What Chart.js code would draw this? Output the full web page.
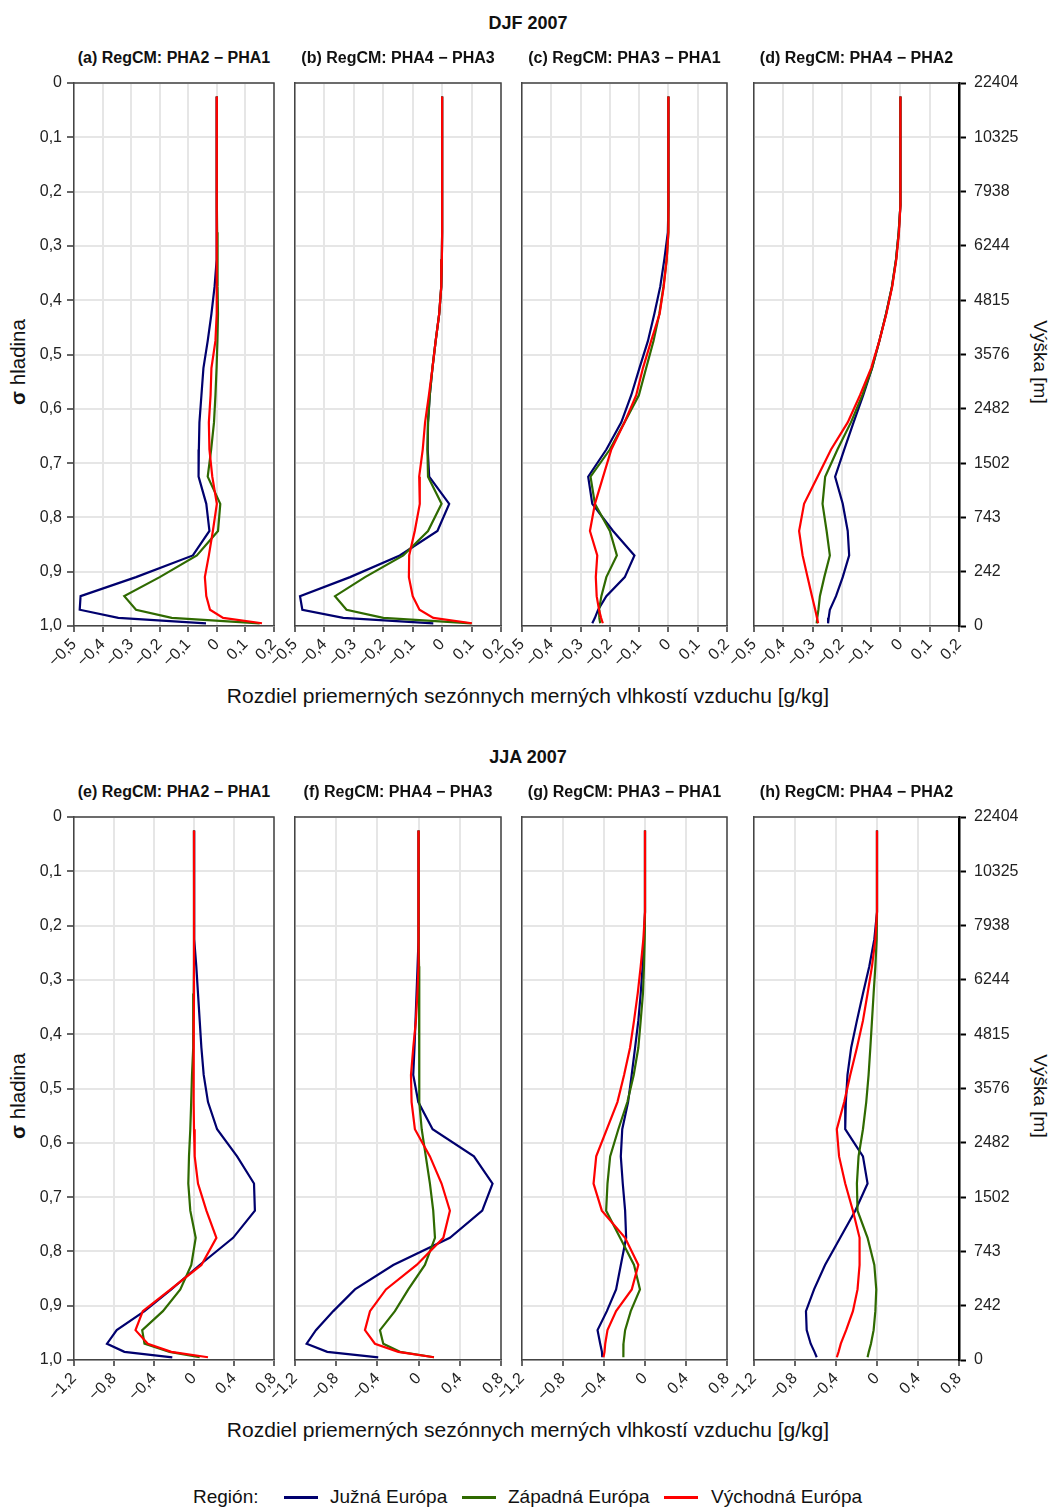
<!DOCTYPE html>
<html lang="sk">
<head>
  <meta charset="UTF-8">
  <title>Rozdiel merných vlhkostí vzduchu – RegCM</title>
  <script src="https://cdn.jsdelivr.net/npm/chart.js"></script>
  <style>
    body {
      margin: 0;
      background: #fff;
      font-family: "Liberation Sans", Arial, sans-serif;
      color: #111;
    }
    #page {
      position: relative;
      width: 1051px;
      height: 1508px;
      overflow: hidden;
    }
    canvas {
      position: absolute;
    }
    .txt {
      position: absolute;
      white-space: nowrap;
      transform: translate(-50%, -50%);
    }
    .season {
      font-weight: bold;
      font-size: 18px;
    }
    .ptitle {
      font-weight: bold;
      font-size: 16px;
    }
    .xtitle {
      font-size: 21px;
    }
    .ytitle {
      font-size: 20.5px;
      transform: translate(-50%, -50%) rotate(-90deg);
    }
    .rtitle {
      font-size: 19px;
      transform: translate(-50%, -50%) rotate(90deg);
    }
    .leg {
      position: absolute;
      top: 1497px;
      font-size: 19px;
      white-space: nowrap;
      transform: translateY(-50%);
    }
    .swatch {
      position: absolute;
      top: 1496px;
      width: 34px;
      height: 3px;
    }
  </style>
</head>
<body>
<div id="page">
  <div class="txt season" style="left:528px; top:23px;">DJF 2007</div>
  <div class="txt season" style="left:528px; top:757px;">JJA 2007</div>

  <div class="txt xtitle" style="left:528px; top:696px;">Rozdiel priemerných sezónnych merných vlhkostí vzduchu [g/kg]</div>
  <div class="txt xtitle" style="left:528px; top:1430px;">Rozdiel priemerných sezónnych merných vlhkostí vzduchu [g/kg]</div>

  <div class="txt ytitle" style="left:18px; top:362px;"><b>σ</b> hladina</div>
  <div class="txt ytitle" style="left:18px; top:1096px;"><b>σ</b> hladina</div>
  <div class="txt rtitle" style="left:1040px; top:362px;">Výška [m]</div>
  <div class="txt rtitle" style="left:1040px; top:1096px;">Výška [m]</div>
</div>

<script>
  // model sigma levels (half levels) and height labels for the right axis
  const SIGMA = [0.025, 0.075, 0.125, 0.175, 0.225, 0.275, 0.325, 0.375, 0.425, 0.475, 0.525, 0.575,
                 0.625, 0.675, 0.725, 0.775, 0.825, 0.87, 0.91, 0.945, 0.97, 0.985, 0.995];
  const HEIGHT_LABELS = ['22404', '10325', '7938', '6244', '4815', '3576', '2482', '1502', '743', '242', '0'];

  const REGIONS = ['Južná Európa', 'Západná Európa', 'Východná Európa'];
  const COLORS = ['#00006e', '#2f6a00', '#ff0000'];

  const TITLES = [
    '(a) RegCM: PHA2 − PHA1', '(b) RegCM: PHA4 − PHA3', '(c) RegCM: PHA3 − PHA1', '(d) RegCM: PHA4 − PHA2',
    '(e) RegCM: PHA2 − PHA1', '(f) RegCM: PHA4 − PHA3', '(g) RegCM: PHA3 − PHA1', '(h) RegCM: PHA4 − PHA2'
  ];

  // DJF 2007
  const A_SOUTH = [0, 0, 0, 0, 0, -0.001, -0.003, -0.008, -0.019, -0.032, -0.047, -0.054, -0.061, -0.063, -0.064, -0.037, -0.026, -0.084, -0.283, -0.477, -0.48, -0.345, -0.038];
  const A_WEST  = [0, 0, 0, 0, 0, 0.001, 0.002, 0.003, 0.004, 0.002, -0.001, -0.005, -0.01, -0.02, -0.032, 0.012, 0.004, -0.07, -0.2, -0.324, -0.283, -0.158, 0.15];
  const A_EAST  = [0, 0, 0, 0, 0, 0, 0, -0.001, -0.003, -0.005, -0.019, -0.022, -0.028, -0.026, -0.016, 0, -0.014, -0.028, -0.042, -0.037, -0.024, 0.022, 0.158];

  const B_SOUTH = [0, 0, 0, 0, 0, 0, -0.001, -0.003, -0.01, -0.022, -0.033, -0.042, -0.048, -0.049, -0.044, 0.024, -0.016, -0.144, -0.313, -0.483, -0.475, -0.336, -0.03];
  const B_WEST  = [0, 0, 0, 0, 0, 0, -0.001, -0.003, -0.01, -0.022, -0.033, -0.042, -0.048, -0.05, -0.048, -0.002, -0.048, -0.132, -0.262, -0.364, -0.325, -0.2, 0.1];
  const B_EAST  = [0, 0, 0, 0, 0, 0, -0.001, -0.003, -0.01, -0.022, -0.033, -0.045, -0.058, -0.066, -0.078, -0.076, -0.093, -0.112, -0.113, -0.1, -0.077, -0.03, 0.101];

  const C_SOUTH = [0, 0, 0, 0, 0, -0.002, -0.014, -0.028, -0.048, -0.07, -0.099, -0.127, -0.161, -0.212, -0.274, -0.26, -0.189, -0.116, -0.149, -0.212, -0.24, -0.251, -0.26];
  const C_WEST  = [0, 0, 0, 0, 0, 0, -0.006, -0.017, -0.031, -0.051, -0.076, -0.101, -0.15, -0.2, -0.266, -0.251, -0.2, -0.176, -0.212, -0.229, -0.237, -0.236, -0.233];
  const C_EAST  = [0, 0, 0, 0, 0, -0.001, -0.006, -0.016, -0.03, -0.059, -0.087, -0.11, -0.15, -0.195, -0.223, -0.251, -0.268, -0.243, -0.248, -0.245, -0.237, -0.23, -0.224];

  const D_SOUTH = [0, 0, 0, 0, 0, -0.006, -0.015, -0.029, -0.049, -0.072, -0.097, -0.127, -0.16, -0.192, -0.223, -0.197, -0.18, -0.175, -0.197, -0.22, -0.241, -0.245, -0.247];
  const D_WEST  = [0, 0, 0, 0, 0, -0.006, -0.015, -0.029, -0.049, -0.072, -0.097, -0.13, -0.169, -0.215, -0.257, -0.266, -0.252, -0.241, -0.26, -0.275, -0.28, -0.284, -0.286];
  const D_EAST  = [0, 0, 0, 0, 0, -0.005, -0.014, -0.028, -0.048, -0.072, -0.1, -0.138, -0.18, -0.237, -0.283, -0.329, -0.346, -0.334, -0.317, -0.302, -0.291, -0.285, -0.281];

  // JJA 2007
  const E_SOUTH = [0, 0, 0, 0, 0.007, 0.023, 0.04, 0.057, 0.074, 0.097, 0.14, 0.231, 0.431, 0.6, 0.609, 0.391, 0.057, -0.227, -0.495, -0.773, -0.87, -0.696, -0.217];
  const E_WEST  = [0, 0, 0, 0, 0, 0, -0.003, -0.006, -0.01, -0.02, -0.028, -0.037, -0.05, -0.057, -0.037, 0.017, -0.027, -0.137, -0.311, -0.518, -0.495, -0.244, 0.057];
  const E_EAST  = [0, 0, 0, 0, 0, 0, 0, -0.002, -0.003, -0.005, -0.003, 0, 0.007, 0.04, 0.124, 0.224, 0.074, -0.234, -0.512, -0.585, -0.462, -0.227, 0.14];

  const F_SOUTH = [0, 0, 0, 0, -0.003, -0.01, -0.02, -0.03, -0.04, -0.052, -0.003, 0.136, 0.537, 0.718, 0.618, 0.304, -0.246, -0.618, -0.828, -0.997, -1.087, -0.887, -0.392];
  const F_WEST  = [0, 0, 0, 0, 0.002, 0.004, 0.005, 0.006, 0.006, 0.006, 0.01, 0.03, 0.07, 0.11, 0.142, 0.159, 0.061, -0.1, -0.23, -0.375, -0.343, -0.181, 0.149];
  const F_EAST  = [0, 0, 0, 0, -0.002, -0.005, -0.012, -0.026, -0.052, -0.074, -0.068, -0.036, 0.11, 0.223, 0.304, 0.24, -0.019, -0.317, -0.472, -0.521, -0.424, -0.197, 0.149];

  const G_SOUTH = [0, 0, 0, 0, -0.01, -0.023, -0.042, -0.065, -0.097, -0.13, -0.165, -0.222, -0.236, -0.217, -0.194, -0.184, -0.236, -0.282, -0.372, -0.463, -0.437, -0.42, -0.417];
  const G_WEST  = [0, 0, 0, 0, -0.003, -0.01, -0.02, -0.042, -0.065, -0.11, -0.172, -0.26, -0.34, -0.366, -0.379, -0.243, -0.107, -0.049, -0.139, -0.194, -0.21, -0.212, -0.21];
  const G_EAST  = [0, 0, 0, 0, -0.016, -0.042, -0.071, -0.107, -0.146, -0.204, -0.269, -0.372, -0.476, -0.502, -0.421, -0.194, -0.065, -0.129, -0.282, -0.366, -0.388, -0.395, -0.405];

  const H_SOUTH = [0, 0, 0, 0, -0.026, -0.075, -0.137, -0.196, -0.252, -0.288, -0.304, -0.31, -0.137, -0.092, -0.212, -0.359, -0.507, -0.614, -0.693, -0.686, -0.647, -0.61, -0.588];
  const H_WEST  = [0, 0, 0, 0, -0.003, -0.016, -0.033, -0.049, -0.065, -0.082, -0.105, -0.137, -0.18, -0.196, -0.19, -0.092, -0.026, -0.007, -0.016, -0.033, -0.059, -0.08, -0.092];
  const H_EAST  = [0, 0, 0, 0, -0.016, -0.049, -0.092, -0.137, -0.196, -0.261, -0.32, -0.392, -0.37, -0.31, -0.235, -0.17, -0.17, -0.19, -0.235, -0.301, -0.353, -0.375, -0.392];

  const SERIES = [
    [A_SOUTH, A_WEST, A_EAST], [B_SOUTH, B_WEST, B_EAST], [C_SOUTH, C_WEST, C_EAST], [D_SOUTH, D_WEST, D_EAST],
    [E_SOUTH, E_WEST, E_EAST], [F_SOUTH, F_WEST, F_EAST], [G_SOUTH, G_WEST, G_EAST], [H_SOUTH, H_WEST, H_EAST]
  ];

  // x ranges per row
  const X_DJF = { min: -0.5, max: 0.2, step: 0.1 };
  const X_JJA = { min: -1.2, max: 0.8, step: 0.4 };

  // plot area geometry
  const COL_LEFT = [74, 295, 522, 754];
  const COL_WIDTH = [200, 206, 205, 205];
  const ROW_TOP = [83, 817];
  const PLOT_H = 543;
  const PAD_L = 60, PAD_R = 80, PAD_T = 30, PAD_B = 60;

  const FONT = { family: '"Liberation Sans", Arial, sans-serif', size: 16 };
  const GRID = '#e6e6e6';
  const FRAME = '#444';

  function fmt(v) {
    if (Math.abs(v) < 1e-9) return '0';
    return v.toFixed(1).replace('.', ',').replace('-', '\u2212');
  }

  // top edge (and right edge when there is no height axis) of the plot frame
  const framePlugin = {
    id: 'frame',
    beforeDatasetsDraw(chart, args, opts) {
      const a = chart.chartArea;
      const ctx = chart.ctx;
      ctx.save();
      ctx.strokeStyle = FRAME;
      ctx.lineWidth = 1.5;
      ctx.beginPath();
      ctx.moveTo(a.left, a.top);
      ctx.lineTo(a.right, a.top);
      if (!opts.rightAxis) {
        ctx.lineTo(a.right, a.bottom);
      }
      ctx.stroke();
      ctx.restore();
    }
  };

  const page = document.getElementById('page');

  for (let p = 0; p < 8; p++) {
    const row = Math.floor(p / 4);
    const col = p % 4;
    const L = COL_LEFT[col], W = COL_WIDTH[col], T = ROW_TOP[row];
    const xr = row === 0 ? X_DJF : X_JJA;
    const first = col === 0;
    const last = col === 3;

    const title = document.createElement('div');
    title.className = 'txt ptitle';
    title.style.left = (L + W / 2) + 'px';
    title.style.top = (T - 25) + 'px';
    title.textContent = TITLES[p];
    page.appendChild(title);

    const cv = document.createElement('canvas');
    cv.width = PAD_L + W + PAD_R;
    cv.height = PAD_T + PLOT_H + PAD_B;
    cv.style.left = (L - PAD_L) + 'px';
    cv.style.top = (T - PAD_T) + 'px';
    page.appendChild(cv);

    const scales = {
      x: {
        type: 'linear',
        min: xr.min,
        max: xr.max,
        ticks: {
          stepSize: xr.step,
          autoSkip: false,
          minRotation: 45,
          maxRotation: 45,
          padding: 3,
          color: '#222',
          font: FONT,
          callback: v => fmt(v)
        },
        grid: { color: GRID, lineWidth: 2, tickLength: 6, tickColor: '#333', tickWidth: 1.5 },
        border: { color: FRAME, width: 1.5 },
        afterFit: s => { s.height = PAD_B; }
      },
      y: {
        type: 'linear',
        reverse: true,
        min: 0,
        max: 1,
        ticks: {
          display: first,
          stepSize: 0.1,
          padding: 5,
          color: '#222',
          font: FONT,
          callback: v => fmt(v)
        },
        grid: { color: GRID, lineWidth: 2, drawTicks: first, tickLength: 7, tickColor: '#333', tickWidth: 1.5 },
        border: { color: FRAME, width: 1.5 },
        afterFit: s => { s.width = PAD_L; }
      }
    };

    if (last) {
      scales.y2 = {
        type: 'linear',
        position: 'right',
        reverse: true,
        min: 0,
        max: 1,
        ticks: {
          stepSize: 0.1,
          padding: 8,
          color: '#222',
          font: FONT,
          callback: v => HEIGHT_LABELS[Math.round(v * 10)]
        },
        grid: { drawOnChartArea: false, tickLength: 7, tickColor: '#000', tickWidth: 2 },
        border: { color: '#000', width: 2.5 },
        afterFit: s => { s.width = PAD_R; }
      };
    }

    new Chart(cv, {
      type: 'scatter',
      data: {
        datasets: SERIES[p].map((vals, k) => ({
          label: REGIONS[k],
          data: SIGMA.map((s, i) => ({ x: vals[i], y: s })),
          showLine: true,
          borderColor: COLORS[k],
          backgroundColor: COLORS[k],
          borderWidth: 2.2,
          pointRadius: 0,
          tension: 0,
          order: 2 - k   // red on top, blue underneath
        }))
      },
      options: {
        responsive: false,
        animation: false,
        events: [],
        layout: {
          autoPadding: false,
          padding: { top: PAD_T, left: 0, bottom: 0, right: last ? 0 : PAD_R }
        },
        plugins: {
          legend: { display: false },
          tooltip: { enabled: false },
          frame: { rightAxis: last }
        },
        scales: scales
      },
      plugins: [framePlugin]
    });
  }

  // legend row under the charts
  const LEGEND_TEXT_X = [330, 508, 711];
  const LEGEND_LINE_X = [284, 462, 664];
  const head = document.createElement('div');
  head.className = 'leg';
  head.style.left = '193px';
  head.textContent = 'Región:';
  page.appendChild(head);
  REGIONS.forEach((r, k) => {
    const sw = document.createElement('div');
    sw.className = 'swatch';
    sw.style.left = LEGEND_LINE_X[k] + 'px';
    sw.style.background = COLORS[k];
    page.appendChild(sw);
    const t = document.createElement('div');
    t.className = 'leg';
    t.style.left = LEGEND_TEXT_X[k] + 'px';
    t.textContent = r;
    page.appendChild(t);
  });
</script>
</body>
</html>
